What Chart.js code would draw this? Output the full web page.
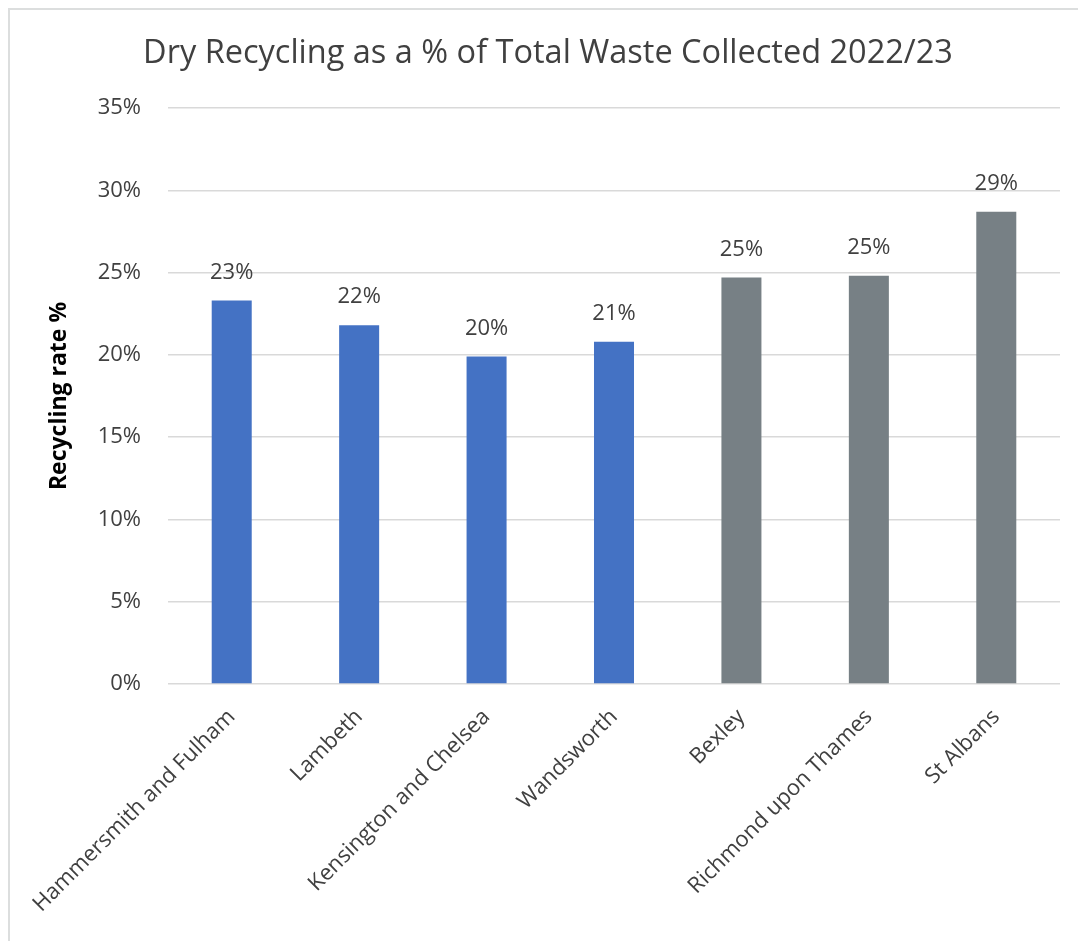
<!DOCTYPE html>
<html>
<head>
<meta charset="utf-8">
<script src="https://cdn.jsdelivr.net/npm/chart.js@4"></script>
<style>
  html, body { margin: 0; padding: 0; background: #fff; overflow: hidden; }
  #wrap { position: relative; width: 1078px; height: 941px; overflow: hidden; }
  #frame { position: absolute; left: 8px; top: 8px; width: 1200px; height: 1200px;
           border-left: 2px solid #dcdede; border-top: 2px solid #dcdede; pointer-events: none; }
  canvas { position: absolute; left: 0; top: 0; }
</style>
</head>
<body>
<div id="wrap">
  <canvas id="chart" width="1078" height="941"></canvas>
  <div id="frame"></div>
</div>
<script>
// ── Data ─────────────────────────────────────────────
const boroughs = ['Hammersmith and Fulham', 'Lambeth', 'Kensington and Chelsea', 'Wandsworth',
                  'Bexley', 'Richmond upon Thames', 'St Albans'];
const recyclingRate = [23.3, 21.8, 19.9, 20.8, 24.7, 24.8, 28.7];
const barColours = ['#4472c4', '#4472c4', '#4472c4', '#4472c4', '#778085', '#778085', '#778085'];
const yTicks = [0, 5, 10, 15, 20, 25, 30, 35];

const TEXT = '#404040';
const FONT = "'Open Sans', sans-serif";
const PAD_LEFT = 36; // shifts the title centre right; y axis width makes up the rest

// ── Value labels above bars ──────────────────────────
const valueLabels = {
  id: 'valueLabels',
  afterDatasetsDraw(chart) {
    const ctx = chart.ctx;
    const meta = chart.getDatasetMeta(0);
    ctx.save();
    ctx.font = `22px ${FONT}`;
    ctx.fillStyle = TEXT;
    ctx.textAlign = 'center';
    ctx.textBaseline = 'middle';
    meta.data.forEach((bar, i) => {
      ctx.fillText(Math.round(recyclingRate[i]) + '%', bar.x, bar.y - 28);
    });
    ctx.restore();
  }
};

new Chart(document.getElementById('chart'), {
  type: 'bar',
  data: {
    labels: boroughs,
    datasets: [{
      data: recyclingRate,
      backgroundColor: barColours,
      borderWidth: 0,
      barPercentage: 0.314,
      categoryPercentage: 1
    }]
  },
  options: {
    responsive: false,
    animation: false,
    layout: { padding: { left: PAD_LEFT, right: 18, top: 0, bottom: 0 } },
    plugins: {
      legend: { display: false },
      tooltip: { enabled: false },
      title: {
        display: true,
        text: 'Dry Recycling as a % of Total Waste Collected 2022/23',
        color: TEXT,
        font: { family: FONT, size: 32.5, weight: 'normal' },
        padding: { top: 34, bottom: 35 }
      }
    },
    scales: {
      x: {
        grid: { display: false },
        border: { display: false },
        ticks: {
          color: TEXT,
          font: { family: FONT, size: 22 },
          minRotation: 45,
          maxRotation: 45,
          padding: 12
        },
        afterFit(scale) { scale.height = 941 - 684; }
      },
      y: {
        min: 0,
        max: 35,
        afterBuildTicks(scale) { scale.ticks = yTicks.map(v => ({ value: v })); },
        grid: { color: '#d9d9d9', lineWidth: 1.5, drawTicks: false },
        border: { display: false },
        ticks: {
          color: TEXT,
          font: { family: FONT, size: 22 },
          padding: 27,
          callback: v => v + '%'
        },
        title: {
          display: true,
          text: 'Recycling rate %',
          color: '#000',
          font: { family: FONT, size: 23, weight: 'bold' },
          padding: { top: 46 - PAD_LEFT, bottom: 0 }
        },
        afterFit(scale) { scale.width = 168 - PAD_LEFT; }
      }
    }
  },
  plugins: [valueLabels]
});
</script>
</body>
</html>
